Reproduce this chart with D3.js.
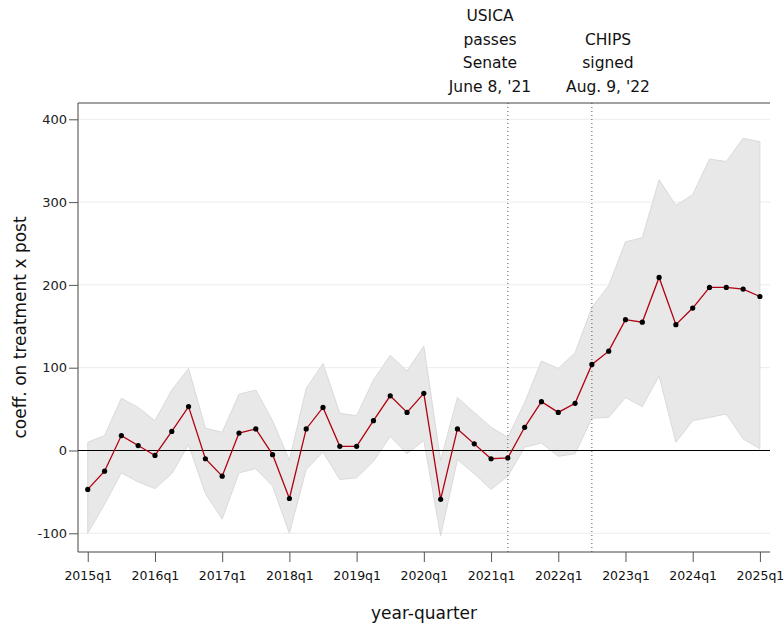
<!DOCTYPE html>
<html><head><meta charset="utf-8">
<script src="https://cdn.jsdelivr.net/npm/d3@7"></script>
<style>body{margin:0;background:#fff}svg{display:block}text{font-family:"DejaVu Sans",sans-serif}</style>
</head><body><svg id="c" width="784" height="628"></svg>
<script>
const quarters = ["2015q1","2015q2","2015q3","2015q4","2016q1","2016q2","2016q3","2016q4","2017q1","2017q2","2017q3","2017q4","2018q1","2018q2","2018q3","2018q4","2019q1","2019q2","2019q3","2019q4","2020q1","2020q2","2020q3","2020q4","2021q1","2021q2","2021q3","2021q4","2022q1","2022q2","2022q3","2022q4","2023q1","2023q2","2023q3","2023q4","2024q1","2024q2","2024q3","2024q4","2025q1"];
const coef  = [-47,-25,18,6,-6,23,53,-10,-31,21,26,-5,-58,26,52,5,5,36,66,46,69,-59,26,8,-10,-9,28,59,46,57,104,120,158,155,209,152,172,197,197,195,186];
const upper = [10,18,63,52,36,73,99,27,22,68,73,36,-12,75,105,45,42,85,115,96,126,-12,64,46,28,16,58,108,99,118,173,199,252,257,327,296,309,352,349,377,373];
const lower = [-100,-65,-27,-38,-46,-28,7,-52,-83,-27,-22,-43,-100,-23,-2,-35,-33,-13,17,-4,12,-103,-11,-28,-47,-31,4,9,-7,-4,39,40,64,53,90,10,36,40,44,14,2];
const xTickLabels = ["2015q1","2016q1","2017q1","2018q1","2019q1","2020q1","2021q1","2022q1","2023q1","2024q1","2025q1"];
const yTicks = [-100,0,100,200,300,400];
const events = [{q:"2021q2", lines:["USICA","passes","Senate","June 8, '21"], tx:490},
                {q:"2022q3", lines:["CHIPS","signed","Aug. 9, '22"], tx:608}];

const svg = d3.select("#c");
const L=78,R=770,T=103,B=552;
const x = d3.scaleLinear().domain([-0.58,40.6]).range([L,R]);
const y = d3.scaleLinear().domain([-122.6,419.7]).range([B,T]);
const idx = q => quarters.indexOf(q);

// grid
svg.append("g").selectAll("line").data(yTicks.filter(d=>d!==0)).join("line")
  .attr("x1",L).attr("x2",R).attr("y1",d=>y(d)).attr("y2",d=>y(d))
  .attr("stroke","#ececec").attr("stroke-width",1);

// CI band
const area = d3.area().x((d,i)=>x(i)).y0((d,i)=>y(lower[i])).y1((d,i)=>y(upper[i]));
svg.append("path").datum(coef).attr("d",area)
  .attr("fill","#e8e8e8").attr("stroke","#dadada").attr("stroke-width",1);

// zero line
svg.append("line").attr("x1",L).attr("x2",R).attr("y1",y(0)).attr("y2",y(0))
  .attr("stroke","#000").attr("stroke-width",1.2);

// event lines
svg.append("g").selectAll("line").data(events).join("line")
  .attr("x1",d=>x(idx(d.q))).attr("x2",d=>x(idx(d.q))).attr("y1",T).attr("y2",B)
  .attr("stroke","#555").attr("stroke-width",1).attr("stroke-dasharray","1,3");

// series line
svg.append("path").datum(coef)
  .attr("d",d3.line().x((d,i)=>x(i)).y(d=>y(d)))
  .attr("fill","none").attr("stroke","#b00010").attr("stroke-width",1.3);
svg.append("g").selectAll("circle").data(coef).join("circle")
  .attr("cx",(d,i)=>x(i)).attr("cy",d=>y(d)).attr("r",2.6).attr("fill","#000");

// axes
const yAxis = d3.axisLeft(y).tickValues(yTicks).tickFormat(d=>String(d)).tickSize(9).tickPadding(2);
const gy = svg.append("g").attr("transform",`translate(${L},0)`).call(yAxis);
gy.select(".domain").attr("d",`M0,${T}V${B}`).attr("stroke","#444");
gy.selectAll("text").attr("font-size",13).attr("fill","#222").style("font-family","DejaVu Sans");
gy.selectAll(".tick line").attr("stroke","#555");

const xAxis = d3.axisBottom(x).tickValues(xTickLabels.map(idx)).tickFormat(i=>quarters[i]).tickSize(10).tickPadding(9);
const gx = svg.append("g").attr("transform",`translate(0,${B})`).call(xAxis);
gx.select(".domain").attr("d",`M${L},0H${R}`).attr("stroke","#444");
gx.selectAll("text").attr("font-size",12.5).attr("fill","#111").style("font-family","DejaVu Sans");
gx.selectAll(".tick line").attr("stroke","#555");

// top border
svg.append("line").attr("x1",L).attr("x2",R).attr("y1",T).attr("y2",T).attr("stroke","#444");

// event labels
events.forEach(ev=>{
  const n = ev.lines.length;
  ev.lines.forEach((s,j)=>{
    svg.append("text").attr("x",ev.tx).attr("y",92-(n-1-j)*23.7)
      .attr("text-anchor","middle").attr("font-size",15.5).attr("fill","#111").text(s);
  });
});

// axis titles
svg.append("text").attr("x",(L+R)/2).attr("y",619).attr("text-anchor","middle")
  .attr("font-size",17).attr("fill","#111").text("year-quarter");
svg.append("text").attr("transform",`translate(26,${(T+B)/2}) rotate(-90)`)
  .attr("text-anchor","middle").attr("font-size",17).attr("fill","#111").text("coeff. on treatment x post");
</script></body></html>
